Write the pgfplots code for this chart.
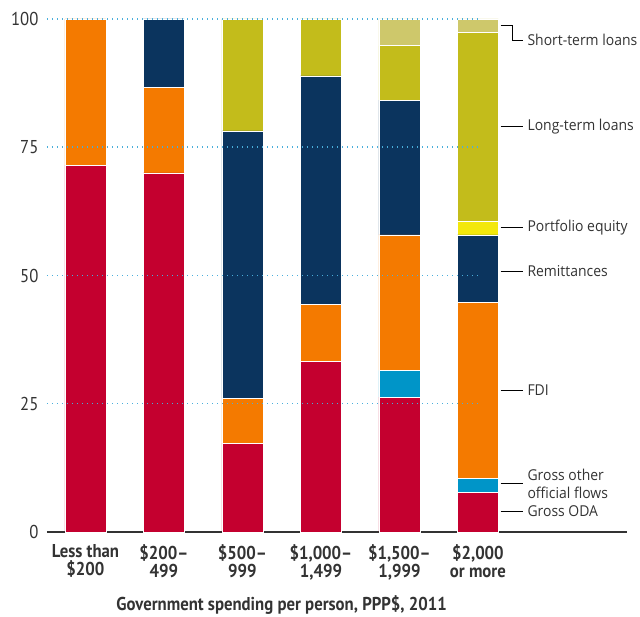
\documentclass[border=0pt]{standalone}
\usepackage{pgfplots}
\pgfplotsset{compat=1.18}
\usepackage{fontspec}
\setmainfont{PT Sans}[FakeStretch=0.9]
\newfontfamily\legfont{Open Sans}[FakeStretch=0.93]
\definecolor{oda}{HTML}{C4002F}
\definecolor{goof}{HTML}{0095C8}
\definecolor{fdi}{HTML}{F47A00}
\definecolor{rem}{HTML}{0B345E}
\definecolor{peq}{HTML}{F3E80B}
\definecolor{ltl}{HTML}{C3BC1B}
\definecolor{stl}{HTML}{CEC86B}
\definecolor{gridc}{HTML}{4AAEDB}
\definecolor{txt}{HTML}{333333}
\newcommand\chfont{\fontsize{18.6}{18}\selectfont}
\newcommand\lgfont{\legfont\fontsize{15}{18}\selectfont}
\begin{document}
\begin{tikzpicture}
\path[use as bounding box] (-47pt,-85pt) rectangle (593pt,532pt);
\begin{axis}[
  at={(0,0)}, anchor=south west,
  scale only axis, width=580pt, height=513pt,
  xmin=-0.49, xmax=6.9, ymin=0, ymax=100,
  ybar stacked, bar width=41pt,
  axis x line*=bottom, axis y line*=left,
  y axis line style={draw=none},
  x axis line style={-, draw=txt, line width=1.4pt},
  major tick length=0,
  xtick={0,1,2,3,4,5},
  xticklabels={{Less than\\\$200},{\$200–\\499},{\$500–\\999},{\$1,000–\\1,499},{\$1,500–\\1,999},{\$2,000\\or more}},
  xticklabel style={align=center, font=\chfont\bfseries, text=txt, yshift=-9pt},
  ytick={0,25,50,75,100},
  yticklabel style={font=\chfont, text=txt, xshift=-5pt},
  /pgf/number format/assume math mode=true,
  clip=false,
]
\draw[gridc, line width=1.5pt, dash pattern=on 1.2pt off 3.8pt] (axis cs:-0.49,25) -- (axis cs:5,25);
\draw[gridc, line width=1.5pt, dash pattern=on 1.2pt off 3.8pt] (axis cs:-0.49,50) -- (axis cs:5,50);
\draw[gridc, line width=1.5pt, dash pattern=on 1.2pt off 3.8pt] (axis cs:-0.49,75) -- (axis cs:5,75);
\draw[gridc, line width=1.5pt, dash pattern=on 1.2pt off 3.8pt] (axis cs:-0.49,100) -- (axis cs:5,100);
% Gross ODA
\addplot[fill=oda, draw=white, line width=0.6pt] coordinates {(0,71.5) (1,70.0) (2,17.3) (3,33.3) (4,26.3) (5,7.7)};
% Gross other official flows
\addplot[fill=goof, draw=white, line width=0.6pt] coordinates {(0,0) (1,0) (2,0) (3,0) (4,5.2) (5,2.7)};
% FDI
\addplot[fill=fdi, draw=white, line width=0.6pt] coordinates {(0,28.5) (1,16.7) (2,8.8) (3,11.0) (4,26.4) (5,34.3)};
% Remittances
\addplot[fill=rem, draw=white, line width=0.6pt] coordinates {(0,0) (1,13.3) (2,52.1) (3,44.6) (4,26.3) (5,13.2)};
% Portfolio equity
\addplot[fill=peq, draw=white, line width=0.6pt] coordinates {(0,0) (1,0) (2,0) (3,0) (4,0) (5,2.7)};
% Long-term loans
\addplot[fill=ltl, draw=white, line width=0.6pt] coordinates {(0,0) (1,0) (2,21.8) (3,11.1) (4,10.6) (5,36.8)};
% Short-term loans
\addplot[fill=stl, draw=white, line width=0.6pt] coordinates {(0,0) (1,0) (2,0) (3,0) (4,5.2) (5,2.6)};
% leader lines and labels
\draw[black, line width=0.6pt] (axis cs:5.29,98.7) -- (axis cs:5.44,98.7) -- (axis cs:5.44,95.9) -- (axis cs:5.58,95.9);
\draw[black, line width=0.6pt] (axis cs:5.29,79.1) -- (axis cs:5.58,79.1);
\draw[black, line width=0.6pt] (axis cs:5.29,59.3) -- (axis cs:5.58,59.3);
\draw[black, line width=0.6pt] (axis cs:5.29,50.9) -- (axis cs:5.58,50.9);
\draw[black, line width=0.6pt] (axis cs:5.29,27.7) -- (axis cs:5.58,27.7);
\draw[black, line width=0.6pt] (axis cs:5.29,9.4) -- (axis cs:5.58,9.4);
\draw[black, line width=0.6pt] (axis cs:5.29,4.0) -- (axis cs:5.58,4.0);
\node[anchor=west, font=\lgfont, text=txt, inner sep=0pt] at (axis cs:5.63,95.9) {Short-term loans};
\node[anchor=west, font=\lgfont, text=txt, inner sep=0pt] at (axis cs:5.63,79.1) {Long-term loans};
\node[anchor=west, font=\lgfont, text=txt, inner sep=0pt] at (axis cs:5.63,59.3) {Portfolio equity};
\node[anchor=west, font=\lgfont, text=txt, inner sep=0pt] at (axis cs:5.63,50.9) {Remittances};
\node[anchor=west, font=\lgfont, text=txt, inner sep=0pt] at (axis cs:5.63,27.7) {FDI};
\node[anchor=west, font=\lgfont, text=txt, inner sep=0pt, align=left] at (axis cs:5.63,9.4) {Gross other\\official flows};
\node[anchor=west, font=\lgfont, text=txt, inner sep=0pt] at (axis cs:5.63,4.0) {Gross ODA};
\node[font=\chfont\bfseries, text=txt, anchor=center, yshift=-73pt] at (axis cs:2.5,0) {Government spending per person, PPP\$, 2011};
\end{axis}
\end{tikzpicture}
\end{document}
